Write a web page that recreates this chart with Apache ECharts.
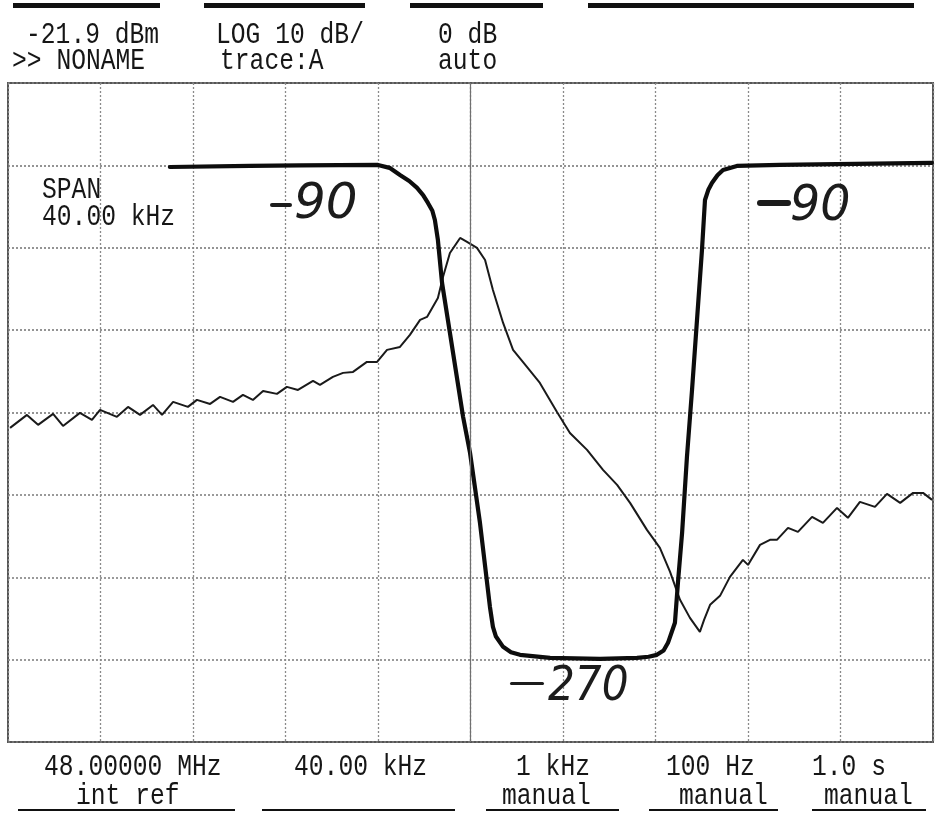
<!DOCTYPE html>
<html>
<head>
<meta charset="utf-8">
<script src="https://cdn.jsdelivr.net/npm/echarts@6/dist/echarts.min.js"></script>
<style>
html,body{margin:0;padding:0;background:#fff;}
#chart{width:946px;height:814px;}
</style>
</head>
<body>
<div id="chart"></div>
<script>
// Frequency offset from centre (kHz), level relative to reference (dB)
const filterFreq = [-13.0,-9.54,-7.37,-4.0,-3.5,-3.05,-2.65,-2.31,-2.05,-1.84,-1.65,-1.54,-1.41,-1.23,-0.89,-0.32,-0.02,0.41,0.84,0.97,1.1,1.41,1.75,2.14,3.44,5.6,7.2,7.7,8.06,8.35,8.54,8.84,8.97,9.15,9.36,9.58,10.01,10.14,10.28,10.44,10.68,10.92,11.52,13.38,19.95];
const filterLevel = [-10.2,-10.07,-10.0,-9.95,-10.3,-11.17,-11.9,-12.74,-13.6,-14.56,-15.5,-16.63,-19.05,-24.27,-30.34,-40.53,-44.9,-53.4,-63.59,-66.02,-67.2,-68.45,-69.1,-69.42,-69.78,-69.9,-69.78,-69.65,-69.42,-68.9,-67.96,-65.53,-60.68,-54.61,-45.39,-37.26,-20.27,-14.2,-13.0,-12.14,-11.2,-10.56,-10.07,-9.95,-9.7];

const signalFreq = [-19.91,-19.18,-18.7,-18.05,-17.62,-16.89,-16.37,-16.02,-15.29,-14.81,-14.29,-13.73,-13.34,-12.86,-12.22,-11.83,-11.26,-10.83,-10.27,-9.84,-9.41,-8.97,-8.37,-7.94,-7.46,-6.81,-6.51,-5.95,-5.51,-5.08,-4.48,-4.04,-3.61,-3.05,-2.62,-2.18,-1.88,-1.41,-1.19,-0.89,-0.45,-0.15,0.28,0.63,0.97,1.41,1.84,2.44,3.0,3.74,4.3,5.04,5.73,6.34,6.9,7.63,8.19,8.63,9.06,9.49,9.92,10.1,10.36,10.79,11.22,11.78,12.0,12.52,12.95,13.25,13.73,14.16,14.77,15.24,15.85,16.32,16.84,17.49,18.01,18.58,19.14,19.57,19.96];
const signalLevel = [-41.87,-40.29,-41.5,-40.17,-41.63,-40.05,-40.9,-39.68,-40.53,-39.32,-40.29,-39.08,-40.29,-38.71,-39.32,-38.47,-38.96,-38.11,-38.71,-37.86,-38.47,-37.38,-37.74,-36.89,-37.26,-36.17,-36.65,-35.68,-35.19,-35.07,-33.86,-33.86,-32.4,-32.04,-30.58,-28.76,-28.4,-26.09,-23.54,-20.63,-18.81,-19.3,-20.02,-21.48,-25.12,-29.13,-32.4,-34.47,-36.41,-39.93,-42.48,-44.54,-46.97,-48.79,-50.97,-54.25,-56.43,-59.34,-62.74,-64.93,-66.63,-65.17,-63.35,-62.26,-59.95,-57.89,-58.5,-56.07,-55.46,-55.46,-54.0,-54.49,-52.67,-53.4,-51.58,-52.79,-50.85,-51.46,-49.88,-50.97,-49.76,-49.76,-50.61];

const headerLine1 = ['-21.9 dBm','LOG 10 dB/','0 dB'];
const headerLine2 = ['>> NONAME','trace:A','auto'];
const footerLine1 = ['48.00000 MHz','40.00 kHz','1 kHz','100 Hz','1.0 s'];
const footerLine2 = ['int ref','','manual','manual','manual'];
const spanText = ['SPAN','40.00 kHz'];
const notes = ['-90','-90','-270'];

const zip = (a,b)=>a.map((v,i)=>[v,b[i]]);
const FONT = '"Liberation Mono", "DejaVu Sans Mono", monospace';
const INK = '#161616';

function txt(s,x,y){
  return {type:'text',x:x,y:y,scaleX:0.85,scaleY:1,
    style:{text:s,fill:INK,font:'normal 29px '+FONT,verticalAlign:'top',align:'left'}};
}
function handDash(x,y,w,h){
  return {type:'rect',shape:{x:x,y:y,width:w,height:h,r:h/2},style:{fill:'#1c1c1c'},z:10};
}
function hand(s,x,y,size,sx){
  return {type:'text',x:x,y:y,scaleX:sx||1,z:10,
    style:{text:s,fill:'#1c1c1c',verticalAlign:'top',font:'italic 300 '+size+'px "DejaVu Sans", sans-serif'}};
}
function bar(x1,x2,y,h){
  return {type:'rect',shape:{x:x1,y:y,width:x2-x1,height:h},style:{fill:'#111'}};
}

const graphics = [
  bar(13,160,3,5), bar(204,365,3,5), bar(410,543,3,5), bar(588,914,3,5),
  txt(headerLine1[0],26,21), txt(headerLine1[1],216,21), txt(headerLine1[2],438,21),
  txt(headerLine2[0],12,47), txt(headerLine2[1],220,47), txt(headerLine2[2],438,47),
  txt(spanText[0],42,176), txt(spanText[1],42,203),
  txt(footerLine1[0],44,753), txt(footerLine1[1],294,753), txt(footerLine1[2],516,753),
  txt(footerLine1[3],666,753), txt(footerLine1[4],812,753),
  txt(footerLine2[0],76,782), txt(footerLine2[2],502,782), txt(footerLine2[3],679,782), txt(footerLine2[4],824,782),
  bar(18,235,809,2), bar(262,455,809,2), bar(486,619,809,2), bar(649,778,809,2), bar(812,926,809,2),
  handDash(270,203,22,4), hand(notes[0].slice(1),294,180,50),
  handDash(757,200,34,6), hand(notes[1].slice(1),790,182,50,0.95),
  handDash(510,682,34,3), hand(notes[2].slice(1),548,664,48,0.88)
];

const chart = echarts.init(document.getElementById('chart'));
chart.setOption({
  backgroundColor:'#fff',
  animation:false,
  grid:{left:8,top:83,width:925,height:659,show:true,borderColor:'#555',borderWidth:2,backgroundColor:'transparent'},
  xAxis:{type:'value',min:-20,max:20,interval:4,
    axisLine:{show:false},axisTick:{show:false},axisLabel:{show:false},
    splitLine:{show:true,lineStyle:{color:'#8a8a8a',type:[2,2],width:1.3}}},
  yAxis:{type:'value',min:-80,max:0,interval:10,
    axisLine:{show:false},axisTick:{show:false},axisLabel:{show:false},
    splitLine:{show:true,lineStyle:{color:'#7a7a7a',type:[2,2],width:1.6}}},
  graphic:graphics,
  series:[
    {type:'line',name:'signal',data:zip(signalFreq,signalLevel),showSymbol:false,
     lineStyle:{color:'#1a1a1a',width:2},z:3,
     markLine:{silent:true,symbol:'none',label:{show:false},
       lineStyle:{color:'#707070',type:'solid',width:1.2},data:[{xAxis:0}]}},
    {type:'line',name:'filter',data:zip(filterFreq,filterLevel),showSymbol:false,
     lineStyle:{color:'#0d0d0d',width:4.2,join:'round',cap:'round'},z:4}
  ]
});
</script>
</body>
</html>
